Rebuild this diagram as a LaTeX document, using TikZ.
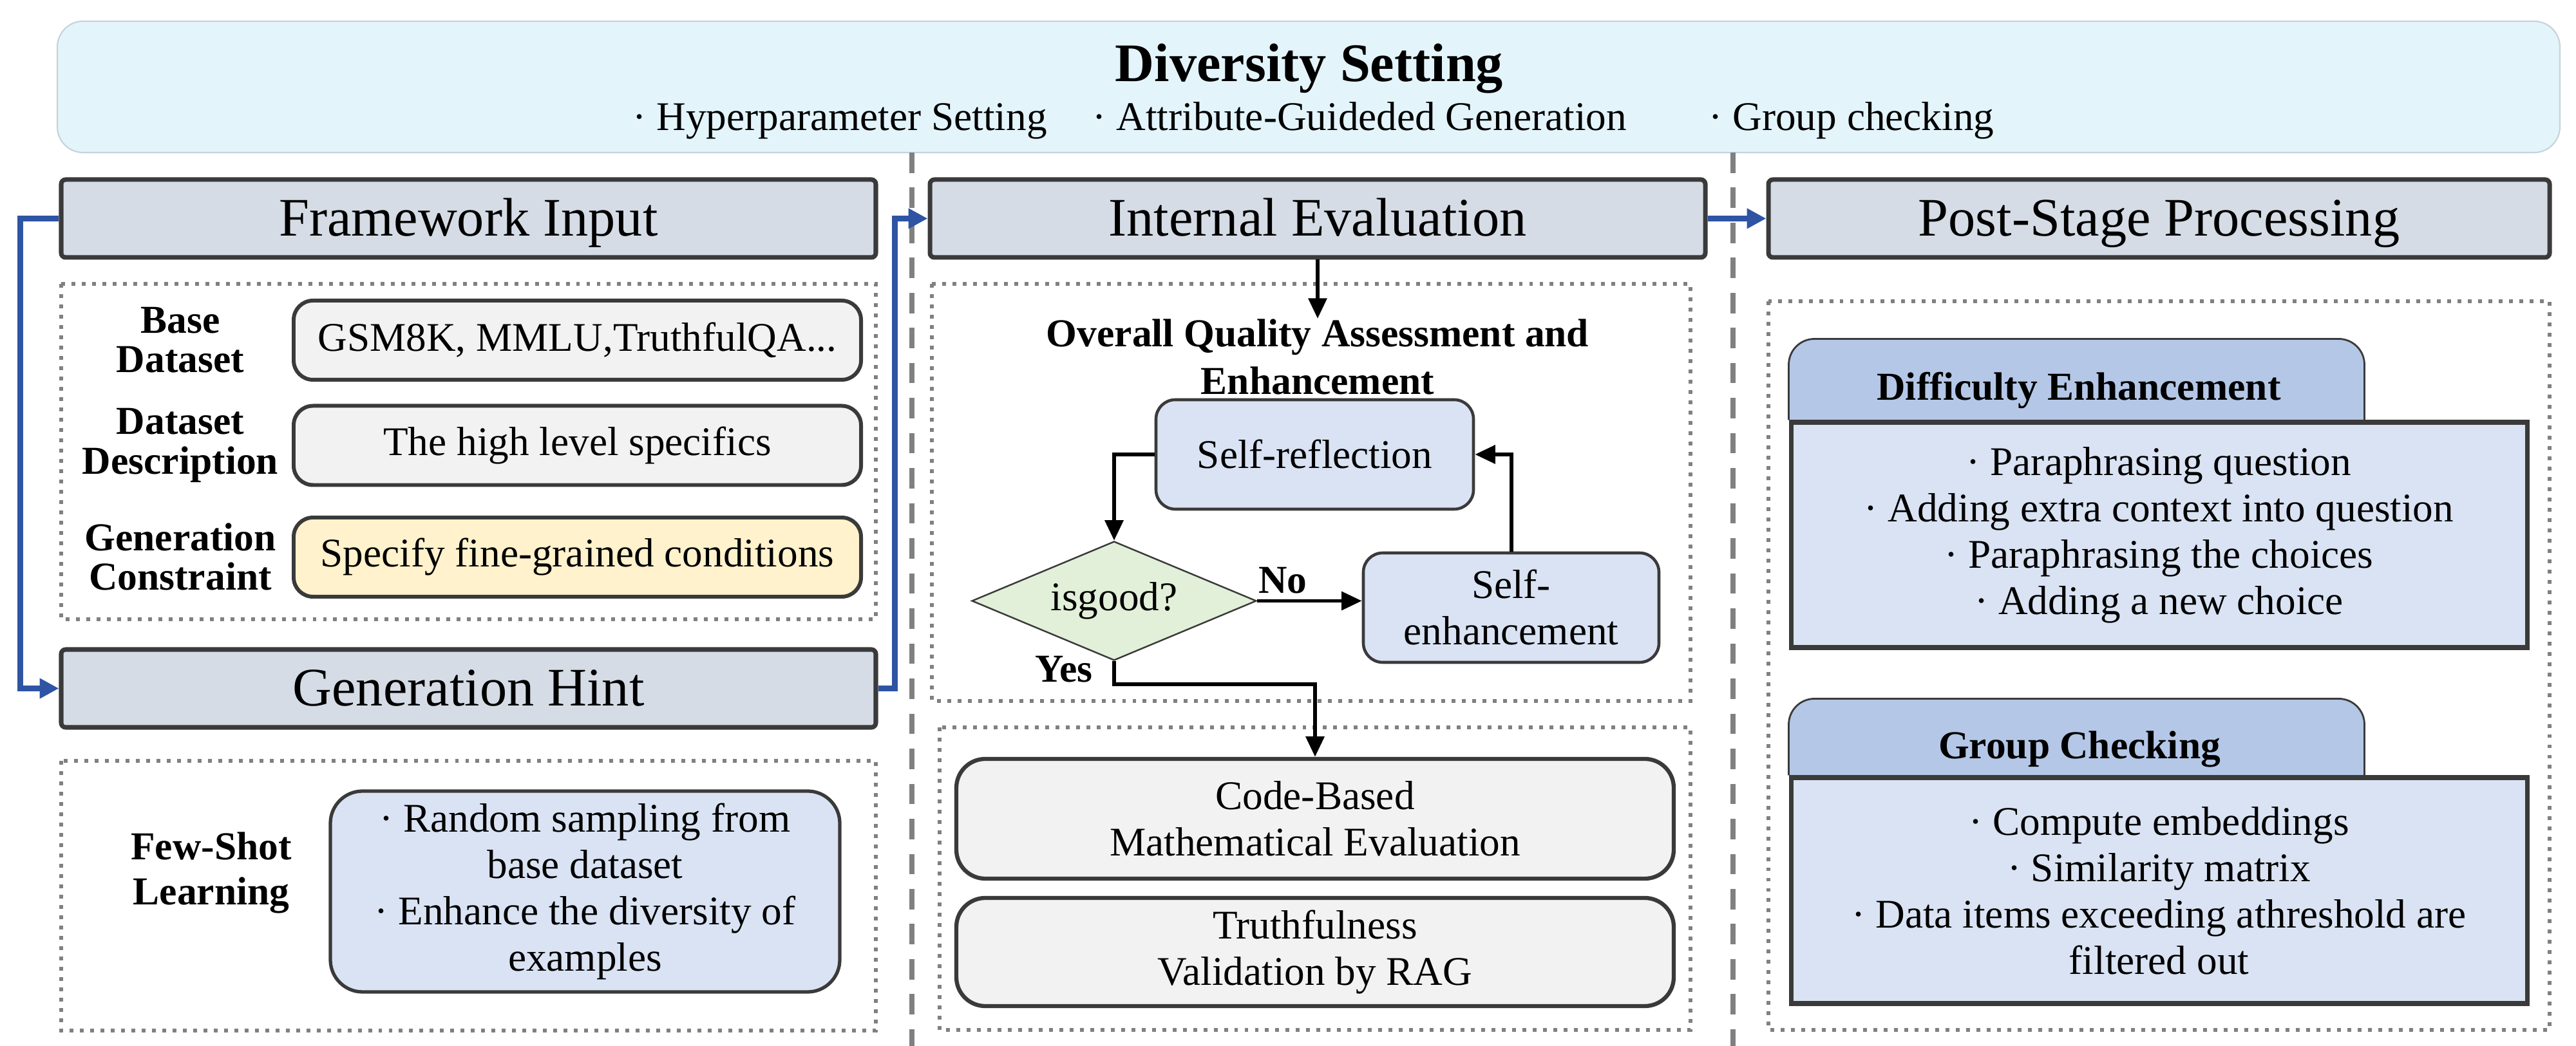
\documentclass[tikz,border=0pt]{standalone}
\usepackage{fontspec}
\setmainfont{Liberation Serif}
\usetikzlibrary{positioning, arrows.meta, shapes.geometric, backgrounds}

\definecolor{boxline}{HTML}{3A3A3A}
\definecolor{headfill}{HTML}{D6DCE5}
\definecolor{grayfill}{HTML}{F2F2F2}
\definecolor{yellowfill}{HTML}{FFF2CC}
\definecolor{bluefill}{HTML}{DAE3F3}
\definecolor{tabfill}{HTML}{B4C7E7}
\definecolor{greenfill}{HTML}{E2F0D9}
\definecolor{bannerfill}{HTML}{E3F4FB}
\definecolor{bannerline}{HTML}{C5D3DA}
\definecolor{flowblue}{HTML}{2E54A3}
\definecolor{dotgray}{HTML}{808080}

\newcommand{\headfont}{\fontsize{24}{28}\selectfont}
\newcommand{\itemfont}{\fontsize{18}{20.5}\selectfont}
\newcommand{\lblfont}{\bfseries\fontsize{17.5}{17.5}\selectfont}

\begin{document}
\begin{tikzpicture}[>=Triangle, font=\itemfont,
  banner/.style={draw=bannerline, line width=0.6pt, fill=bannerfill, rounded corners=0.4cm,
    minimum width=38.86cm, minimum height=2.04cm, inner sep=0pt},
  header/.style={draw=boxline, line width=2pt, fill=headfill, rounded corners=2pt,
    minimum height=1.21cm, inner sep=0pt, font=\headfont, text height=16pt, text depth=0.4pt},
  inbox/.style={draw=boxline, line width=1.7pt, fill=grayfill, rounded corners=0.3cm,
    minimum width=8.81cm, minimum height=1.23cm, inner sep=0pt},
  lbl/.style={font=\lblfont, align=center, inner sep=0pt},
  proc/.style={draw=boxline, line width=1.3pt, fill=bluefill, rounded corners=0.3cm,
    minimum width=4.93cm, minimum height=1.70cm, align=center, inner sep=0pt},
  decision/.style={diamond, draw=boxline, line width=0.7pt, fill=greenfill, aspect=2.4,
    minimum width=4.42cm, minimum height=1.85cm, inner sep=0pt},
  evalbox/.style={draw=boxline, line width=1.8pt, fill=grayfill, rounded corners=0.45cm,
    minimum width=11.14cm, minimum height=1.86cm, align=center, inner sep=0pt},
  tabbody/.style={draw=boxline, line width=2pt, fill=bluefill,
    minimum width=11.43cm, minimum height=3.5cm, align=center, inner sep=0pt},
  tab/.style={draw=boxline, line width=0.8pt, fill=tabfill, rounded corners=0.4cm},
  groupbox/.style={draw=dotgray, line width=1.7pt, dash pattern=on 1.7pt off 2.85pt},
  divider/.style={draw=dotgray, line width=2.3pt, dash pattern=on 9pt off 6.5pt},
  blueflow/.style={draw=flowblue, line width=2.8pt, -{Triangle[length=8.5pt,width=8.5pt]}},
  flow/.style={draw=black, line width=1.7pt, -{Triangle[length=9pt,width=8pt]}}]
  \useasboundingbox (0,0) rectangle (40,16.25);

  % diversity setting banner
  \node[banner] (banner) at (20.32,14.90) {};
  \node[font=\bfseries\headfont, anchor=base, inner sep=0pt] (divtitle) at (20.33,14.98) {Diversity Setting};
  \node[anchor=base west, inner sep=0pt] (hyper) at (9.82,14.22) {· Hyperparameter Setting};
  \node[anchor=base west, inner sep=0pt] (attr) at (16.96,14.22) {· Attribute-Guideded Generation};
  \node[anchor=base west, inner sep=0pt] (grpchk) at (26.53,14.22) {· Group checking};

  % column dividers
  \draw[divider] (14.16,13.88) -- (14.16,0);
  \draw[divider] (26.91,13.88) -- (26.91,0);

  % left column
  \node[header, minimum width=12.65cm] (fwin) at (7.275,12.855) {Framework Input};
  \draw[groupbox] (0.95,11.84) rectangle (13.60,6.63);
  \node[lbl] (lblbase) at (2.80,10.97) {Base\\Dataset};
  \node[lbl] (lbldesc) at (2.80,9.33) {Dataset\\Description};
  \node[lbl] (lblcons) at (2.80,7.60) {Generation\\Constraint};
  \node[inbox] (basebox) at (8.965,10.965) {GSM8K, MMLU,TruthfulQA...};
  \node[inbox] (descbox) at (8.965,9.33) {The high level specifics};
  \node[inbox, fill=yellowfill] (consbox) at (8.965,7.595) {Specify fine-grained conditions};

  \node[header, minimum width=12.65cm] (genhint) at (7.275,5.555) {Generation Hint};
  \draw[groupbox] (0.95,4.43) rectangle (13.60,0.24);
  \node[lbl, font=\bfseries\fontsize{17.5}{20}\selectfont] (lblfew) at (3.28,2.69) {Few-Shot\\Learning};
  \node[draw=boxline, line width=1.5pt, fill=bluefill, rounded corners=0.5cm, minimum width=7.91cm,
    minimum height=3.12cm, align=center, inner sep=0pt] (fewbox) at (9.085,2.40)
    {· Random sampling from\\base dataset\\· Enhance the diversity of\\examples};

  % middle column
  \node[header, minimum width=12.04cm] (inteval) at (20.46,12.855) {Internal Evaluation};
  \draw[groupbox] (14.47,11.84) rectangle (26.25,5.36);
  \node[lbl, font=\bfseries\fontsize{17.5}{21}\selectfont, anchor=north] (oqa) at (20.46,11.30)
    {Overall Quality Assessment and\\Enhancement};
  \node[proc] (selfref) at (20.415,9.19) {Self-reflection};
  \node[decision] (isgood) at (17.30,6.915) {isgood?};
  \node[proc, minimum width=4.59cm] (selfenh) at (23.465,6.81) {Self-\\enhancement};
  \node[font=\lblfont, inner sep=0pt] (nolbl) at (19.92,7.23) {No};
  \node[font=\lblfont, inner sep=0pt] (yeslbl) at (16.52,5.85) {Yes};

  \draw[groupbox] (14.59,4.95) rectangle (26.25,0.25);
  \node[evalbox] (codeeval) at (20.42,3.53) {Code-Based\\Mathematical Evaluation};
  \node[evalbox, minimum height=1.68cm] (rageval) at (20.42,1.46) {Truthfulness\\Validation by RAG};

  % right column
  \node[header, minimum width=12.13cm] (poststage) at (33.525,12.855) {Post-Stage Processing};
  \draw[groupbox] (27.46,11.57) rectangle (39.59,0.25);
  \node[tabbody] (debody) at (33.525,7.94)
    {· Paraphrasing question\\· Adding extra context into question\\· Paraphrasing the choices\\· Adding a new choice};
  \node[tabbody, minimum height=3.51cm] (gcbody) at (33.525,2.415)
    {· Compute embeddings\\· Similarity matrix\\· Data items exceeding athreshold are\\filtered out};
  \begin{scope}[on background layer]
    \draw[tab] (debody.north west) -- ++(0,1.26) -- ++(8.94,0) -- ++(0,-1.26);
    \draw[tab] (gcbody.north west) -- ++(0,1.19) -- ++(8.94,0) -- ++(0,-1.19);
  \end{scope}
  \node[font=\lblfont, inner sep=0pt] (detitle) at (32.28,10.19) {Difficulty Enhancement};
  \node[font=\lblfont, inner sep=0pt] (gctitle) at (32.29,4.61) {Group Checking};

  % stage flow
  \draw[blueflow] (fwin.west) -- ++(-0.6,0) |- (genhint.west);
  \draw[blueflow] (genhint.east) -- ++(0.26,0) |- (inteval.west);
  \draw[blueflow] (inteval.east) -- (poststage.west);

  % evaluation loop
  \draw[flow] (inteval.south) -- (oqa.north);
  \draw[flow] (selfref.west) -| (isgood.north);
  \draw[flow] (isgood.east) -- (isgood.east -| selfenh.west);
  \draw[flow] (selfenh.north) |- (selfref.east);
  \draw[flow] (isgood.south) -- ++(0,-0.36) -| (codeeval.north);
\end{tikzpicture}
\end{document}
